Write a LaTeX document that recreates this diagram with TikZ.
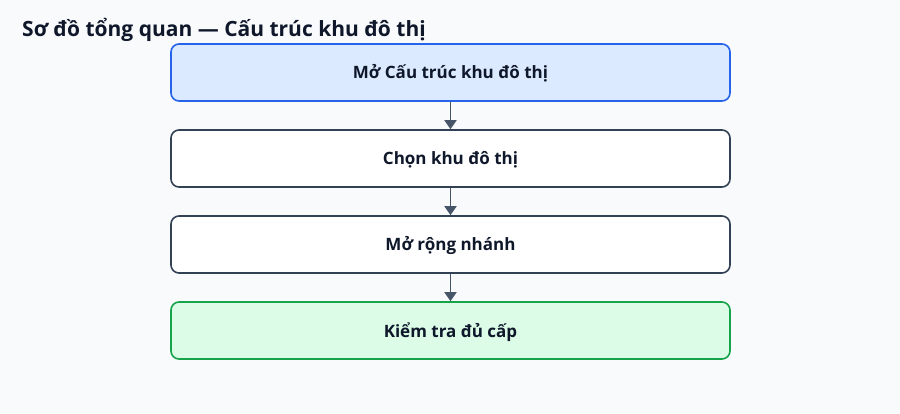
\documentclass[tikz,border=0pt]{standalone}
\usepackage{fontspec}
\setmainfont{Open Sans}
\usetikzlibrary{arrows.meta}
\definecolor{bg}{HTML}{F8FAFC}
\definecolor{txt}{HTML}{0F172A}
\definecolor{slate}{HTML}{334155}
\definecolor{arr}{HTML}{475569}
\definecolor{bluebd}{HTML}{2563EB}
\definecolor{bluefill}{HTML}{DBEAFE}
\definecolor{greenbd}{HTML}{16A34A}
\definecolor{greenfill}{HTML}{DCFCE7}
\begin{document}
\begin{tikzpicture}[x=1pt,y=-1pt,
  stepbox/.style={draw=slate,fill=white,line width=1.6pt,rounded corners=8pt,
    minimum width=559pt,minimum height=57pt,inner sep=0pt,text height=14pt,text depth=1pt,
    font=\bfseries\fontsize{17}{20}\selectfont,text=txt},
  flow/.style={draw=arr,line width=1.8pt,-{Triangle[length=9pt,width=12pt]}}]
\fill[bg] (0,0) rectangle (900,414);
\useasboundingbox (0,0) rectangle (900,414);
\node[anchor=base west,font=\bfseries\fontsize{21}{24}\selectfont,text=txt,inner sep=0pt] (title) at (22,37) {Sơ đồ tổng quan — Cấu trúc khu đô thị};
\node[stepbox,draw=bluebd,fill=bluefill] (b1) at (450.5,72.5) {Mở Cấu trúc khu đô thị};
\node[stepbox] (b2) at (450.5,158.5) {Chọn khu đô thị};
\node[stepbox] (b3) at (450.5,244.5) {Mở rộng nhánh};
\node[stepbox,draw=greenbd,fill=greenfill] (b4) at (450.5,330.5) {Kiểm tra đủ cấp};
\draw[flow] (b1) -- (b2);
\draw[flow] (b2) -- (b3);
\draw[flow] (b3) -- (b4);
\end{tikzpicture}
\end{document}
